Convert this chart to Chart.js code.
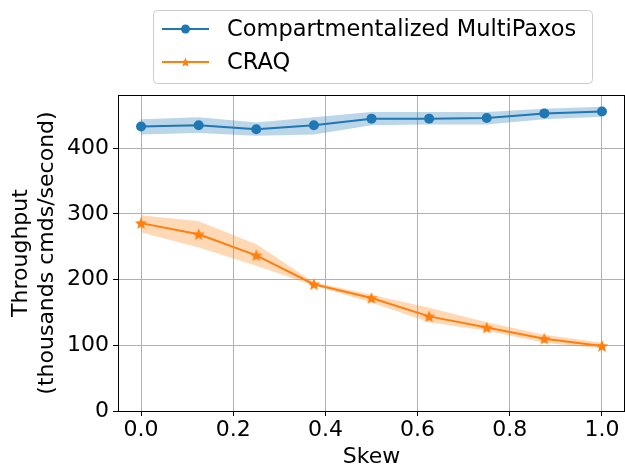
<!DOCTYPE html>
<html lang="en">
<head>
  <meta charset="UTF-8">
  <title>Throughput vs Skew</title>
  <style>
    body { margin: 0; background: #fff; }
    #chartContainer { position: relative; width: 625px; height: 468px; }
  </style>
  <script src="https://cdn.jsdelivr.net/npm/chart.js"></script>
</head>
<body>
  <div id="chartContainer">
    <canvas id="chartCanvas" width="625" height="468"></canvas>
  </div>

  <script>
    // data
    const skew = [0, 0.125, 0.25, 0.375, 0.5, 0.625, 0.75, 0.875, 1.0];
    const paxos = [433, 435, 429, 435, 445, 445, 446, 453, 456];
    const paxosLo = [421, 423, 419, 421, 435, 436, 436, 444, 448];
    const paxosHi = [444, 447, 439, 447, 455, 455, 455, 460, 463];
    const craq = [286, 269, 237, 193, 172, 144, 127, 110, 99];
    const craqLo = [272, 249, 221, 191, 165, 135, 122, 104, 95];
    const craqHi = [298, 289, 254, 196, 177, 157, 135, 116, 104];
    const seriesNames = ['Compartmentalized MultiPaxos', 'CRAQ'];
    const xTicks = [0, 0.2, 0.4, 0.6, 0.8, 1.0];
    const yTicks = [0, 100, 200, 300, 400];

    const BLUE = '#1f77b4';
    const ORANGE = '#ff7f0e';
    const FONT = 'DejaVu Sans';
    const FS = 22;

    // filled star marker, chart.js 'star' is only an asterisk
    function drawStar(ctx, cx, cy, r) {
      ctx.beginPath();
      for (let i = 0; i < 10; i++) {
        const rad = i % 2 === 0 ? r : r * 0.45;
        const a = -Math.PI / 2 + i * Math.PI / 5;
        const x = cx + rad * Math.cos(a);
        const y = cy + rad * Math.sin(a);
        if (i === 0) ctx.moveTo(x, y); else ctx.lineTo(x, y);
      }
      ctx.closePath();
      ctx.fill();
    }
    const starImg = document.createElement('canvas');
    starImg.width = 14;
    starImg.height = 14;
    {
      const c = starImg.getContext('2d');
      c.fillStyle = ORANGE;
      drawStar(c, 7, 7.5, 6.5);
    }

    function pts(ys) {
      return skew.map((x, i) => ({ x: x, y: ys[i] }));
    }

    // frame + legend box like matplotlib
    const extras = {
      id: 'extras',
      afterDraw(chart) {
        const ctx = chart.ctx;
        const a = chart.chartArea;
        ctx.save();
        ctx.strokeStyle = '#000';
        ctx.lineWidth = 1;
        ctx.beginPath();
        ctx.moveTo(a.left, a.top + 0.5);
        ctx.lineTo(a.right, a.top + 0.5);
        ctx.moveTo(a.right - 0.5, a.top);
        ctx.lineTo(a.right - 0.5, a.bottom);
        ctx.stroke();

        // legend
        const bx = 153.5, by = 10.5, bw = 439, bh = 73;
        ctx.fillStyle = 'rgba(255,255,255,0.8)';
        ctx.strokeStyle = '#cccccc';
        ctx.beginPath();
        ctx.roundRect(bx, by, bw, bh, 4);
        ctx.fill();
        ctx.stroke();

        const rows = [29, 62];
        const colors = [BLUE, ORANGE];
        ctx.lineWidth = 2;
        rows.forEach((y, i) => {
          ctx.strokeStyle = colors[i];
          ctx.beginPath();
          ctx.moveTo(162, y);
          ctx.lineTo(209, y);
          ctx.stroke();
          if (i === 0) {
            ctx.fillStyle = BLUE;
            ctx.beginPath();
            ctx.arc(185.5, y, 4.5, 0, Math.PI * 2);
            ctx.fill();
          } else {
            ctx.fillStyle = ORANGE;
            drawStar(ctx, 185.5, y + 0.5, 5);
          }
          ctx.fillStyle = '#000';
          ctx.font = '22.5px "' + FONT + '"';
          ctx.textBaseline = 'middle';
          ctx.fillText(seriesNames[i], 227, y + 1);
        });
        ctx.restore();
      }
    };

    const ctx = document.getElementById('chartCanvas').getContext('2d');
    const chart = new Chart(ctx, {
      type: 'scatter',
      data: {
        datasets: [
          { data: pts(paxos), showLine: true, borderColor: BLUE, backgroundColor: BLUE,
            borderWidth: 2, pointRadius: 5, pointBorderWidth: 0, order: 0, fill: false },
          { data: pts(craq), showLine: true, borderColor: ORANGE, backgroundColor: ORANGE,
            borderWidth: 2, pointStyle: starImg, order: 0, fill: false },
          { data: pts(paxosLo), showLine: true, borderWidth: 0, pointRadius: 0, fill: false, order: 1 },
          { data: pts(paxosHi), showLine: true, borderWidth: 0, pointRadius: 0, order: 1,
            fill: '-1', backgroundColor: 'rgba(31,119,180,0.3)' },
          { data: pts(craqLo), showLine: true, borderWidth: 0, pointRadius: 0, fill: false, order: 1 },
          { data: pts(craqHi), showLine: true, borderWidth: 0, pointRadius: 0, order: 1,
            fill: '-1', backgroundColor: 'rgba(255,127,14,0.3)' }
        ]
      },
      plugins: [extras],
      options: {
        responsive: false,
        animation: false,
        layout: { autoPadding: false, padding: { top: 95, left: 0, right: 0, bottom: 0 } },
        plugins: {
          legend: { display: false },
          tooltip: { enabled: false },
          filler: { drawTime: 'beforeDatasetsDraw' }
        },
        scales: {
          x: {
            type: 'linear',
            min: -0.05,
            max: 1.05,
            afterBuildTicks: s => { s.ticks = xTicks.map(v => ({ value: v })); },
            afterFit: s => { s.height = 57; s.paddingLeft = 0; s.paddingRight = 0; },
            grid: { color: '#b0b0b0', lineWidth: 1, tickColor: '#000', tickLength: 5 },
            border: { color: '#000', width: 1 },
            ticks: { color: '#000', font: { family: FONT, size: FS, lineHeight: 1.0 }, padding: 3,
              maxRotation: 0, callback: v => v.toFixed(1) },
            title: { display: true, text: 'Skew', color: '#000',
              font: { family: FONT, size: FS, lineHeight: 1.0 }, padding: { top: 0, bottom: 0 } }
          },
          y: {
            min: 0,
            max: 481,
            afterBuildTicks: s => { s.ticks = yTicks.map(v => ({ value: v })); },
            afterFit: s => { s.width = 118; },
            grid: { color: '#b0b0b0', lineWidth: 1, tickColor: '#000', tickLength: 5 },
            border: { color: '#000', width: 1 },
            ticks: { color: '#000', font: { family: FONT, size: FS }, padding: 4 },
            title: { display: true, text: ['Throughput', '(thousands cmds/second)'], color: '#000',
              font: { family: FONT, size: FS, lineHeight: 1.15 }, padding: { top: 9, bottom: 0 } }
          }
        }
      }
    });
  </script>
</body>
</html>
